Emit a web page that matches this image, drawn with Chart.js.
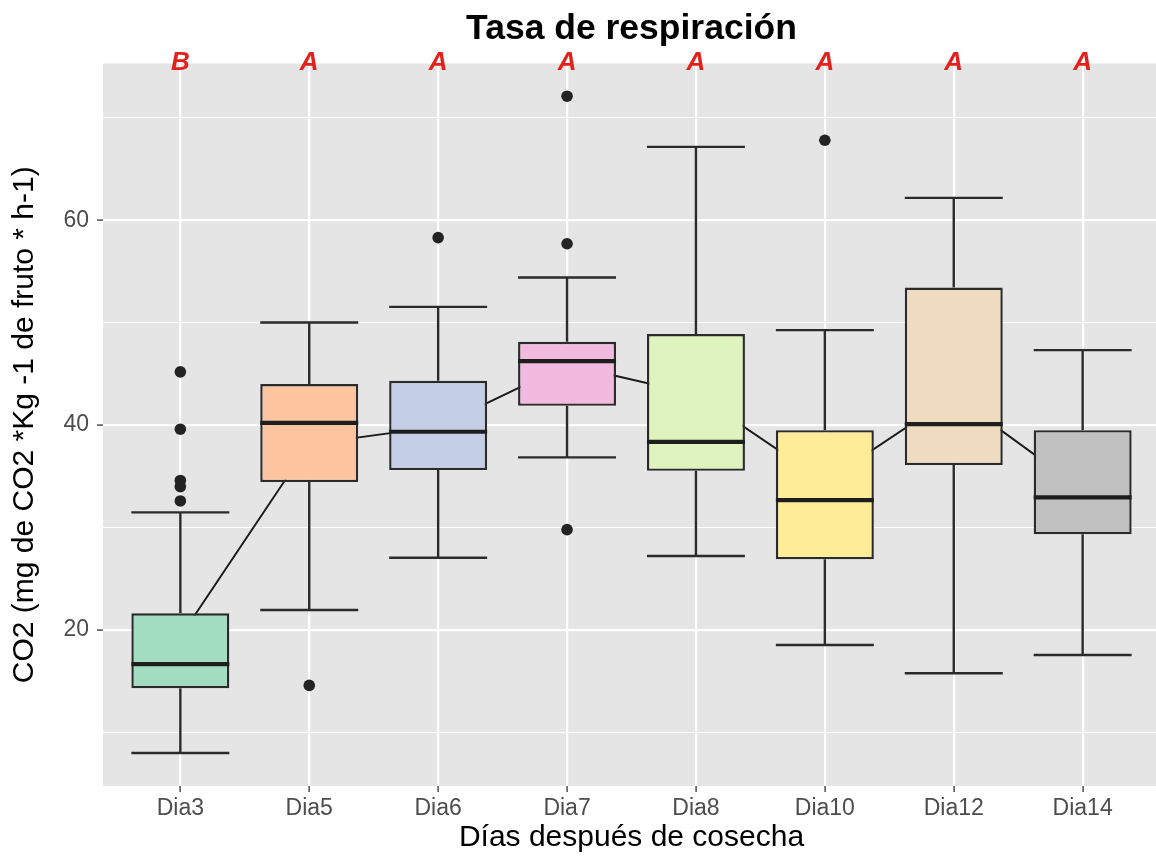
<!DOCTYPE html>
<html lang="es">
<head>
<meta charset="utf-8">
<title>Tasa de respiración</title>
<script src="https://cdn.jsdelivr.net/npm/chart.js@4.4.1/dist/chart.umd.min.js"></script>
<style>
  html, body { margin: 0; padding: 0; background: #ffffff; overflow: hidden; }
  #chart { display: block; }
</style>
</head>
<body>
<canvas id="chart" width="1160" height="861"></canvas>
<script>
// Respiration rate per sampling day: box statistics, means and outliers
const categories   = ['Dia3', 'Dia5', 'Dia6', 'Dia7', 'Dia8', 'Dia10', 'Dia12', 'Dia14'];
const whiskerLow   = [8.0, 21.95, 27.06, 36.85, 27.22, 18.54, 15.78, 17.56];
const q1           = [14.31, 34.44, 35.61, 41.88, 35.54, 26.9, 36.1, 29.34];
const median       = [16.68, 40.22, 39.35, 46.24, 38.37, 32.68, 40.1, 32.95];
const q3           = [21.63, 44.0, 44.33, 48.13, 48.88, 39.51, 53.43, 39.51];
const whiskerHigh  = [31.48, 50.02, 51.54, 54.4, 67.15, 49.27, 62.18, 47.32];
const means        = [19.35, 38.15, 39.85, 45.9, 43.0, 34.5, 42.85, 33.7];
const outliers     = [[45.2, 39.6, 34.6, 34.0, 32.6], [14.6], [58.3], [72.1, 57.7, 29.8], [], [67.8], [], []];
const groupLetters = ['B', 'A', 'A', 'A', 'A', 'A', 'A', 'A'];
const yTickLabels  = [20, 40, 60];
const boxColors    = ['#A2DDC2', '#FCC5A0', '#C4CEE6', '#F1BADE', '#DFF3BF', '#FFEC98', '#EEDBC0', '#C0C0C0'];

const FONT = "'Liberation Sans', Arial, Helvetica, sans-serif";
const INK = '#2b2b2b';
const BOX_DATASET = 1;

// grey panel behind the grid
const panelBackground = {
  id: 'panelBackground',
  beforeDraw(chart) {
    const { ctx, chartArea: a } = chart;
    ctx.save();
    ctx.fillStyle = '#E5E5E5';
    ctx.fillRect(a.left, a.top, a.right - a.left, a.bottom - a.top);
    ctx.restore();
  }
};

// whisker stems and caps, drawn under the boxes
const whiskers = {
  id: 'whiskers',
  beforeDatasetsDraw(chart) {
    const { ctx } = chart;
    const xs = chart.scales.x, ys = chart.scales.y;
    const bars = chart.getDatasetMeta(BOX_DATASET).data;
    ctx.save();
    ctx.strokeStyle = INK;
    ctx.lineWidth = 2.4;
    ctx.lineCap = 'butt';
    bars.forEach((bar, i) => {
      const x = xs.getPixelForValue(i);
      const half = bar.width / 2;
      const yLo = ys.getPixelForValue(whiskerLow[i]);
      const yHi = ys.getPixelForValue(whiskerHigh[i]);
      const yQ1 = ys.getPixelForValue(q1[i]);
      const yQ3 = ys.getPixelForValue(q3[i]);
      ctx.beginPath();
      ctx.moveTo(x, yQ3); ctx.lineTo(x, yHi);
      ctx.moveTo(x, yQ1); ctx.lineTo(x, yLo);
      ctx.moveTo(x - half, yHi); ctx.lineTo(x + half, yHi);
      ctx.moveTo(x - half, yLo); ctx.lineTo(x + half, yLo);
      ctx.stroke();
    });
    ctx.restore();
  }
};

// median bars across each box
const medians = {
  id: 'medians',
  afterDatasetDraw(chart, args) {
    if (args.index !== BOX_DATASET) return;
    const { ctx } = chart;
    const ys = chart.scales.y;
    ctx.save();
    ctx.strokeStyle = '#1e1e1e';
    ctx.lineWidth = 4.2;
    args.meta.data.forEach((bar, i) => {
      const y = ys.getPixelForValue(median[i]);
      ctx.beginPath();
      ctx.moveTo(bar.x - bar.width / 2, y);
      ctx.lineTo(bar.x + bar.width / 2, y);
      ctx.stroke();
    });
    ctx.restore();
  }
};

// plot title and significance letters
const annotations = {
  id: 'annotations',
  afterDraw(chart) {
    const { ctx, chartArea: a } = chart;
    const xs = chart.scales.x, ys = chart.scales.y;
    ctx.save();
    ctx.fillStyle = '#000000';
    ctx.font = `bold 35.5px ${FONT}`;
    ctx.textAlign = 'center';
    ctx.textBaseline = 'alphabetic';
    ctx.fillText('Tasa de respiración', (a.left + a.right) / 2, 39);

    ctx.fillStyle = '#E3211C';
    ctx.font = `italic bold 26px ${FONT}`;
    ctx.textBaseline = 'middle';
    const yTop = ys.getPixelForValue(ys.max) - 1;
    groupLetters.forEach((t, i) => {
      ctx.fillText(t, xs.getPixelForValue(i), yTop);
    });
    ctx.restore();
  }
};

const meanPoints = categories.map((_, i) => ({ x: i, y: means[i] }));
const boxPoints = categories.map((_, i) => ({ x: i, y: [q1[i], q3[i]] }));
const outlierPoints = [];
outliers.forEach((vals, i) => vals.forEach(v => outlierPoints.push({ x: i, y: v })));

new Chart(document.getElementById('chart'), {
  type: 'bar',
  data: {
    datasets: [
      {
        type: 'line',
        data: meanPoints,
        borderColor: '#1a1a1a',
        borderWidth: 2,
        pointRadius: 0,
        tension: 0,
        fill: false,
        order: 3
      },
      {
        type: 'bar',
        data: boxPoints,
        backgroundColor: boxColors,
        borderColor: INK,
        borderWidth: 2.4,
        borderSkipped: false,
        categoryPercentage: 1,
        barPercentage: 0.76,
        order: 2
      },
      {
        type: 'scatter',
        data: outlierPoints,
        backgroundColor: '#232323',
        borderWidth: 0,
        pointRadius: 5.8,
        order: 1
      }
    ]
  },
  options: {
    responsive: false,
    maintainAspectRatio: false,
    devicePixelRatio: 1,
    animation: false,
    events: [],
    layout: { autoPadding: false, padding: { top: 63.5, right: 0, bottom: 0, left: 0 } },
    plugins: {
      legend: { display: false },
      tooltip: { enabled: false },
      title: { display: false }
    },
    scales: {
      x: {
        type: 'linear',
        min: -0.6,
        max: 7.6,
        offset: false,
        afterFit(s) { s.height = 75; },
        border: { display: false },
        grid: {
          color: '#ffffff',
          lineWidth: 2.2,
          offset: false,
          tickLength: 6,
          tickColor: '#4D4D4D',
          tickWidth: 1.5
        },
        ticks: {
          stepSize: 1,
          includeBounds: false,
          autoSkip: false,
          maxRotation: 0,
          color: '#4D4D4D',
          font: { family: FONT, size: 23 },
          padding: 3,
          callback: v => categories[v] ?? ''
        },
        title: {
          display: true,
          text: 'Días después de cosecha',
          color: '#000000',
          font: { family: FONT, size: 30 },
          padding: { top: 0, bottom: 5 }
        }
      },
      y: {
        type: 'linear',
        min: 4.78,
        max: 75.29,
        afterFit(s) { s.width = 103; },
        border: { display: false },
        grid: {
          color: '#ffffff',
          lineWidth: c => yTickLabels.includes(c.tick.value) ? 2.2 : 1.1,
          tickLength: 6,
          tickColor: c => yTickLabels.includes(c.tick.value) ? '#4D4D4D' : 'rgba(0,0,0,0)',
          tickWidth: 1.5
        },
        ticks: {
          stepSize: 10,
          includeBounds: false,
          color: '#4D4D4D',
          font: { family: FONT, size: 23 },
          padding: 8,
          callback: v => yTickLabels.includes(v) ? String(v) : ''
        },
        title: {
          display: true,
          text: 'CO2 (mg de CO2 *Kg -1 de fruto * h-1)',
          color: '#000000',
          font: { family: FONT, size: 30 },
          padding: { top: 7, bottom: 0 }
        }
      }
    }
  },
  plugins: [panelBackground, whiskers, medians, annotations]
});
</script>
</body>
</html>
